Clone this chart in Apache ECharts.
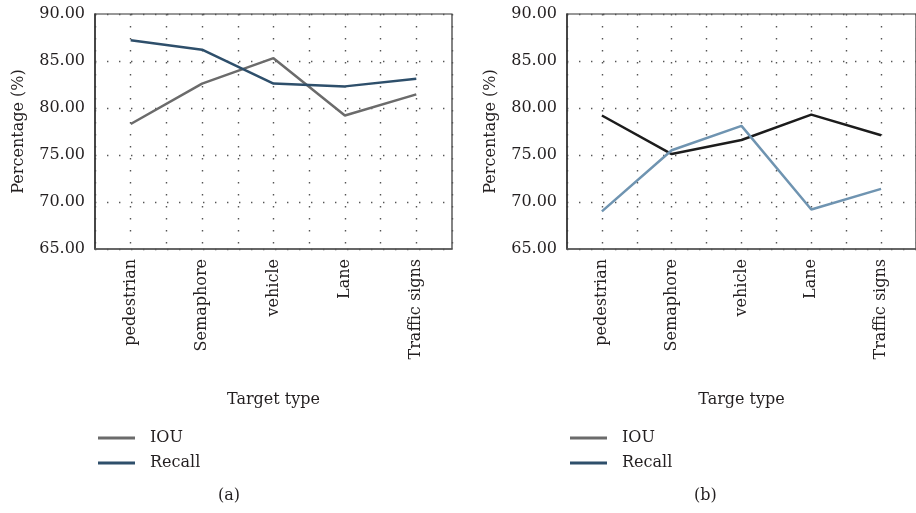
<!DOCTYPE html>
<html>
<head>
<meta charset="utf-8">
<script src="https://cdn.jsdelivr.net/npm/echarts@6/dist/echarts.min.js"></script>
<style>
html,body{margin:0;padding:0;background:#fff;}
#c{width:916px;height:513px;}
</style>
</head>
<body>
<div id="c"></div>
<script>
var categories = ['pedestrian', 'Semaphore', 'vehicle', 'Lane', 'Traffic signs'];
var iouA = [78.3, 82.6, 85.3, 79.2, 81.45];
var recallA = [87.2, 86.2, 82.6, 82.3, 83.1];
var iouB = [79.2, 75.1, 76.6, 79.3, 77.1];
var recallB = [69.0, 75.5, 78.1, 69.2, 71.4];
var seriesNames = ['IOU', 'Recall'];
var yTicks = {min: 65, max: 90, interval: 5};

var FONT = 'DejaVu Serif';
var TXT = '#231f20';
var chart = echarts.init(document.getElementById('c'), null, {renderer: 'canvas'});

function catAxis(gi, name) {
  return {
    type: 'category', gridIndex: gi, data: categories, boundaryGap: true,
    name: name, nameLocation: 'middle', nameGap: 143,
    nameTextStyle: {fontFamily: FONT, fontSize: 16, color: TXT},
    axisLine: {show: true, onZero: false, lineStyle: {color: '#555', width: 1.5}},
    axisTick: {show: false},
    axisLabel: {rotate: 90, margin: 10, fontFamily: FONT, fontSize: 16, color: TXT},
    splitLine: {show: false}
  };
}
function gridValAxis(gi) {
  return {
    type: 'value', gridIndex: gi, min: -0.5, max: 4.5, interval: 0.5, position: 'top',
    axisLine: {show: false, onZero: false}, axisTick: {show: false}, axisLabel: {show: false},
    splitLine: {show: true, lineStyle: {color: '#555', width: 1.4, type: [1.4, 10.6]}}
  };
}
function yAx(gi) {
  return {
    type: 'value', gridIndex: gi, min: yTicks.min, max: yTicks.max, interval: yTicks.interval,
    name: 'Percentage (%)', nameLocation: 'middle', nameGap: 68, nameRotate: 90,
    nameTextStyle: {fontFamily: FONT, fontSize: 16, color: TXT},
    axisLine: {show: true, onZero: false, lineStyle: {color: '#333', width: 1.5}},
    axisTick: {show: false},
    axisLabel: {margin: 10, fontFamily: FONT, fontSize: 16, color: TXT,
      formatter: function (v) { return v.toFixed(2); }},
    splitLine: {show: true, lineStyle: {color: '#555', width: 1.4, type: [1.4, 10.6]}}
  };
}
function legend(left, c1, c2) {
  return {
    orient: 'vertical', left: left, top: 425, itemGap: 9,
    icon: 'rect', itemWidth: 37, itemHeight: 3,
    textStyle: {fontFamily: FONT, fontSize: 16, color: TXT, lineHeight: 16, padding: [0, 0, 0, 10]},
    selectedMode: false,
    data: [
      {name: seriesNames[0], itemStyle: {color: c1}, lineStyle: {color: c1}},
      {name: seriesNames[1], itemStyle: {color: c2}, lineStyle: {color: c2}}
    ]
  };
}
function line(name, xi, yi, data, color) {
  return {
    type: 'line', name: name, xAxisIndex: xi, yAxisIndex: yi, data: data,
    symbol: 'none', showSymbol: false, color: color,
    lineStyle: {color: color, width: 2.5}, itemStyle: {color: color}, animation: false
  };
}

chart.setOption({
  backgroundColor: '#fff',
  animation: false,
  grid: [
    {left: 95, top: 14, width: 357, height: 235, show: true, borderColor: '#333', borderWidth: 1.2, backgroundColor: 'transparent'},
    {left: 567, top: 14, width: 358, height: 235, show: true, borderColor: '#333', borderWidth: 1.2, backgroundColor: 'transparent'}
  ],
  xAxis: [catAxis(0, 'Target type'), gridValAxis(0), catAxis(1, 'Targe type'), gridValAxis(1)],
  yAxis: [yAx(0), yAx(1)],
  legend: [legend(93, '#6b6b6b', '#2e4f6b'), legend(565, '#6b6b6b', '#2e4f6b')],
  graphic: [
    {type: 'text', left: 218, top: 488, style: {text: '(a)', font: '16px "DejaVu Serif"', fill: TXT}},
    {type: 'text', left: 694, top: 488, style: {text: '(b)', font: '16px "DejaVu Serif"', fill: TXT}}
  ],
  series: [
    line(seriesNames[0], 0, 0, iouA, '#6b6b6b'),
    line(seriesNames[1], 0, 0, recallA, '#2e4f6b'),
    line(seriesNames[0], 2, 1, iouB, '#1c1c1c'),
    line(seriesNames[1], 2, 1, recallB, '#6f94b1')
  ]
});
</script>
</body>
</html>
